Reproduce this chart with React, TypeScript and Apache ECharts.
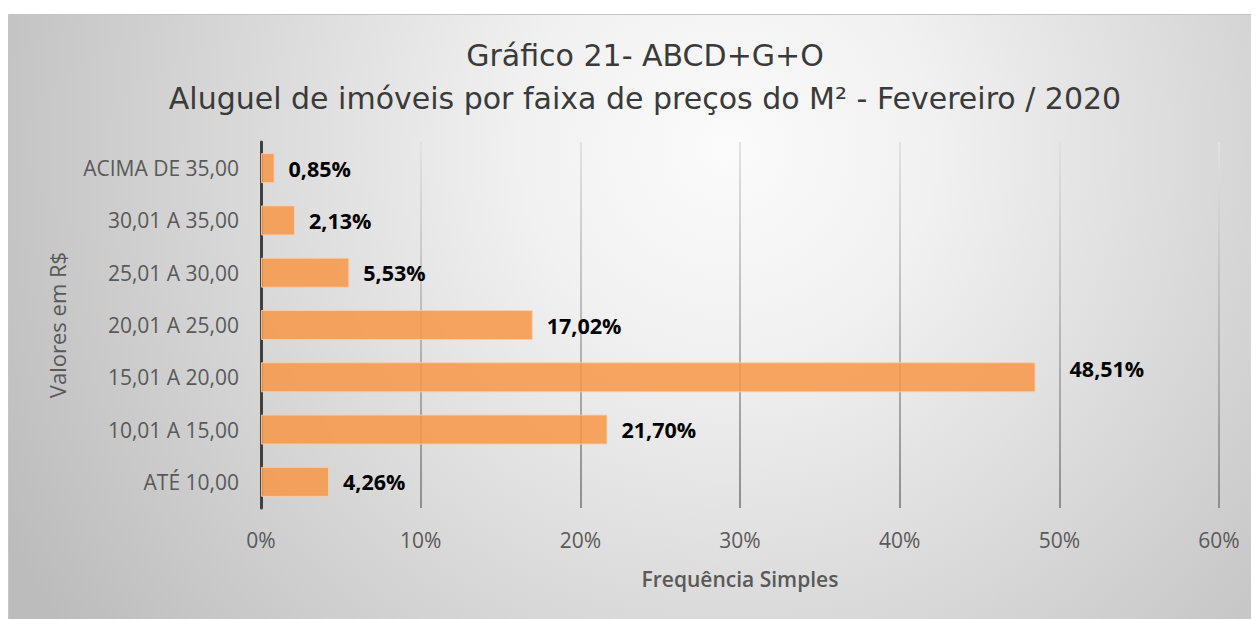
import React, { useEffect, useRef } from "react";
import * as echarts from "echarts";

const categories = [
  "ATÉ 10,00",
  "10,01 A 15,00",
  "15,01 A 20,00",
  "20,01 A 25,00",
  "25,01 A 30,00",
  "30,01 A 35,00",
  "ACIMA DE 35,00",
];
const values = [4.26, 21.7, 48.51, 17.02, 5.53, 2.13, 0.85];
const titleText = "Gráfico 21- ABCD+G+O\nAluguel de imóveis por faixa de preços do M² - Fevereiro / 2020";
const xAxisName = "Frequência Simples";
const yAxisName = "Valores em R$";

const W = 1251;
const H = 611;

export default function App() {
  const ref = useRef<HTMLDivElement>(null);
  useEffect(() => {
    if (!ref.current) return;
    const chart = echarts.init(ref.current, null, { renderer: "svg" });
    const gridTop = 134;
    const gridBottomY = 500;
    const option: any = {
      animation: false,
      graphic: [
        {
          type: "rect",
          z: -100,
          silent: true,
          shape: { x: 0.5, y: 6.5, width: W - 1, height: H - 6 },
          style: {
            fill: new echarts.graphic.RadialGradient(
              720,
              140,
              820,
              [
                { offset: 0, color: "#fbfbfb" },
                { offset: 0.25, color: "#f1f1f1" },
                { offset: 1, color: "#bcbcbc" },
              ],
              true
            ),
            stroke: "#c4c4c4",
            lineWidth: 1,
          },
        },
      ],
      title: {
        text: titleText,
        left: 632,
        top: 21,
        textAlign: "center",
        textStyle: {
          fontFamily: "DejaVu Sans",
          fontSize: 30,
          fontWeight: "normal",
          color: "#3a3a3a",
          lineHeight: 43,
        },
      },
      grid: {
        left: 253,
        right: 40,
        top: gridTop,
        bottom: H - gridBottomY,
        containLabel: false,
      },
      xAxis: {
        type: "value",
        min: 0,
        max: 60,
        interval: 10,
        name: xAxisName,
        nameLocation: "middle",
        nameGap: 60,
        nameTextStyle: {
          fontFamily: "Open Sans",
          fontSize: 21,
          fontWeight: 600,
          color: "#595959",
        },
        axisLine: { show: false },
        axisTick: { show: false },
        axisLabel: {
          formatter: (v: number) => v + "%",
          fontFamily: "Open Sans",
          fontSize: 21,
          color: "#595959",
          margin: 21,
        },
        splitLine: {
          show: true,
          lineStyle: {
            width: 2,
            color: new echarts.graphic.LinearGradient(
              0,
              gridTop,
              0,
              gridBottomY,
              [
                { offset: 0, color: "#e2e2e2" },
                { offset: 1, color: "#8e8e8e" },
              ],
              true
            ),
          },
        },
      },
      yAxis: {
        type: "category",
        data: categories,
        name: yAxisName,
        nameLocation: "middle",
        nameGap: 193,
        nameRotate: 90,
        nameTextStyle: {
          fontFamily: "Open Sans",
          fontSize: 22,
          color: "#595959",
        },
        axisLine: { show: true, lineStyle: { color: "#404040", width: 3 } },
        axisTick: { show: false },
        axisLabel: {
          fontFamily: "Open Sans",
          fontSize: 21,
          color: "#595959",
          margin: 22,
        },
        splitLine: { show: false },
      },
      series: [
        {
          type: "bar",
          barWidth: 30,
          data: values.map((v) =>
            v === 48.51
              ? { value: v, label: { offset: [20, -9] } }
              : { value: v }
          ),
          itemStyle: {
            color: "rgba(247,150,70,0.85)",
            borderColor: "rgba(252,205,165,0.9)",
            borderWidth: 1,
          },
          label: {
            show: true,
            position: "right",
            distance: 14,
            formatter: (p: any) => p.value.toFixed(2).replace(".", ",") + "%",
            fontFamily: "Open Sans",
            fontWeight: "bold",
            fontSize: 21.5,
            color: "#000000",
          },
        },
      ],
    };
    chart.setOption(option);
    return () => chart.dispose();
  }, []);
  return <div ref={ref} style={{ width: W, height: H }} />;
}
